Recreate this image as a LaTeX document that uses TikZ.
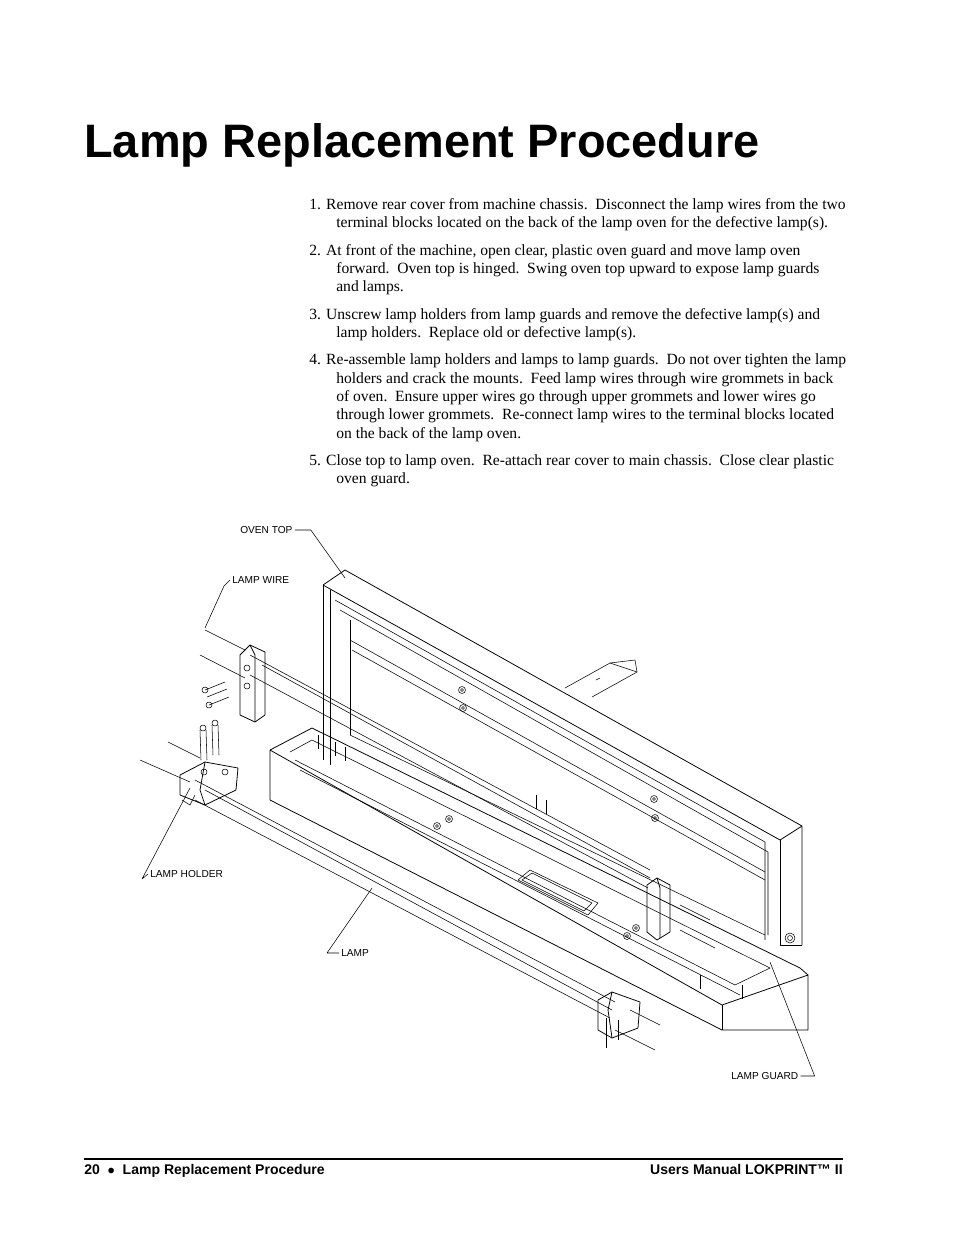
\documentclass[tikz,border=0pt]{standalone}
\usepackage{fontspec}
\setmainfont{Liberation Serif}
\newfontfamily\arial{Liberation Sans}
\begin{document}
\begin{tikzpicture}[x=0.6415pt,y=-0.6415pt,line join=round,
  ln/.style={draw,line width=0.5pt},
  thin/.style={draw,line width=0.35pt},
  lbl/.style={font=\arial\fontsize{6.5}{7}\selectfont,inner sep=0pt,anchor=west},
  bl/.style={font=\fontsize{10}{12}\selectfont,inner sep=0pt,anchor=base west}]
\useasboundingbox (0,0) rectangle (954,1235);
\node[font=\arial\bfseries\fontsize{30.1}{34}\selectfont,anchor=base west,inner sep=0pt] (title) at (84,157) {Lamp Replacement Procedure};
% body text
\node[bl] (t1a) at (309,209) {1. Remove rear cover from machine chassis.\ \ Disconnect the lamp wires from the two};
\node[bl] (t1b) at (336,227) {terminal blocks located on the back of the lamp oven for the defective lamp(s).};
\node[bl] (t2a) at (309,255) {2. At front of the machine, open clear, plastic oven guard and move lamp oven};
\node[bl] (t2b) at (336,273) {forward.\ \ Oven top is hinged.\ \ Swing oven top upward to expose lamp guards};
\node[bl] (t2c) at (336,291) {and lamps.};
\node[bl] (t3a) at (309,319) {3. Unscrew lamp holders from lamp guards and remove the defective lamp(s) and};
\node[bl] (t3b) at (336,337) {lamp holders.\ \ Replace old or defective lamp(s).};
\node[bl] (t4a) at (309,364) {4. Re-assemble lamp holders and lamps to lamp guards.\ \ Do not over tighten the lamp};
\node[bl] (t4b) at (336,383) {holders and crack the mounts.\ \ Feed lamp wires through wire grommets in back};
\node[bl] (t4c) at (336,401) {of oven.\ \ Ensure upper wires go through upper grommets and lower wires go};
\node[bl] (t4d) at (336,419) {through lower grommets.\ \ Re-connect lamp wires to the terminal blocks located};
\node[bl] (t4e) at (336,438) {on the back of the lamp oven.};
\node[bl] (t5a) at (309,465) {5. Close top to lamp oven.\ \ Re-attach rear cover to main chassis.\ \ Close clear plastic};
\node[bl] (t5b) at (336,483) {oven guard.};
% ---------- drawing ----------
\draw[ln] (323,585) -- (345,570) -- (802,826) -- (802,945);
\draw[ln] (323,585) -- (780,840) -- (802,826);
\draw[ln] (323,585) -- (323,760);
\draw[ln] (330,590) -- (330,765);
\draw[ln] (780,840) -- (780,945) -- (802,945);
\draw[thin] (340,610) -- (768,852) -- (768,935);
\draw[thin] (350,620) -- (350,735);
\draw[thin] (350,640) -- (765,872);
\draw[thin] (352,650) -- (765,880);
\draw[thin] (335,600) -- (765,842) -- (765,940);
\draw[thin] (350,735) -- (765,935);
\draw[thin] (565,688) -- (610,663) -- (637,672) -- (592,697);
\draw[thin] (610,663) -- (635,660) -- (637,672);
\draw[thin] (596,680) -- (600,678);
\foreach \p in {(462,690),(463,708),(654,799),(655,818),(437,826),(449,819),(627,936),(636,928)}
  \draw[thin] \p circle (3.5) \p circle (1.5);
\draw[ln] (270,750) -- (312,728) -- (800,968) -- (808,975);
\draw[ln] (270,750) -- (270,800) -- (722,1030) -- (808,1030) -- (808,975) -- (722,1005) -- (270,750);
\draw[ln] (722,1005) -- (722,1030);
\draw[thin] (290,752) -- (312,740) -- (770,968);
\draw[thin] (295,760) -- (735,985) -- (770,968);
\draw[thin] (300,770) -- (740,995);
\draw[thin] (518,880) -- (530,870) -- (598,903) -- (588,915) -- cycle;
\draw[thin] (522,880) -- (532,873) -- (592,903) -- (584,911) -- cycle;
\foreach \x/\y in {335/742,345/747,318/735,536/795,546/800,700/975,742/985}
  \draw[thin] (\x,\y) -- (\x,\y+14);
\draw[thin] (250,655) -- (650,870);
\draw[thin] (250,675) -- (648,888);
\draw[thin] (262,665) -- (650,878);
\draw[thin] (195,780) -- (615,1002);
\draw[thin] (195,800) -- (610,1018);
\draw[thin] (205,790) -- (612,1010);
\draw[thin] (200,655) -- (245,678);
\draw[thin] (205,630) -- (245,650);
\draw[thin] (140,760) -- (190,782);
\draw[thin] (168,742) -- (200,758);
\draw[thin] (615,1030) -- (655,1050);
\draw[thin] (630,1010) -- (660,1025);
\draw[thin] (680,905) -- (710,920);
\draw[thin] (680,930) -- (715,948);
\draw[ln] (240,655) -- (250,645) -- (265,652) -- (265,715) -- (255,722) -- (240,715) -- cycle;
\draw[ln] (250,645) -- (255,655) -- (255,722);
\draw[thin] (247,668) circle (3) (247,686) circle (3);
\draw[thin] (205,690) -- (225,682) (207,697) -- (227,689) (209,705)--(229,697);
\draw[thin] (205,690) circle (3) (209,705) circle (3);
\draw[ln] (180,775) -- (205,762) -- (238,768) -- (236,790) -- (205,805) -- (180,795) -- cycle;
\draw[ln] (205,762) -- (200,790) -- (205,805);
\draw[thin] (195,795) -- (190,805) -- (182,800);
\draw[thin] (204,772) circle (3) (225,772) circle (3);
\draw[thin] (200,730) -- (201,760) (206,730) -- (207,760) (212,725) -- (213,755) (218,725) -- (219,755);
\draw[thin] (203,728) circle (3) (215,723) circle (3);
\draw[ln] (647,885) -- (657,878) -- (670,885) -- (670,932) -- (657,940) -- (647,932) -- cycle;
\draw[ln] (657,878) -- (660,888) -- (660,938);
\draw[ln] (598,1000) -- (612,992) -- (640,1002) -- (638,1028) -- (612,1038) -- (598,1030) -- cycle;
\draw[ln] (612,992) -- (608,1010) -- (612,1038);
\draw[thin] (606,1018) -- (606,1048);
\draw[thin] (618,1020) -- (618,1040);
\draw[thin] (790,938) circle (5) (790,938) circle (2.5);
% labels + leaders
\node[lbl] (oventop) at (240,530) {OVEN TOP};
\draw[thin] (oventop.east) ++(2,0) coordinate (ot1) -- ++(16,0) coordinate (ot2) -- (345,578);
\node[lbl] (lampwire) at (232,580) {LAMP WIRE};
\draw[thin] (lampwire.west) ++(-2,0) coordinate (lw1) -- ++(-6,6) coordinate (lw2) -- (205,628);
\node[lbl] (lampholder) at (150,874) {LAMP HOLDER};
\draw[thin] (lampholder.west) ++(-2,0) coordinate (lh1) -- ++(-6,5) coordinate (lh2) -- (190,788);
\node[lbl] (lamp) at (341,953) {LAMP};
\draw[thin] (lamp.west) ++(-2,0) coordinate (l1) -- ++(-12,0) coordinate (l2) -- (372,888);
\node[lbl] (lampguard) at (731,1076) {LAMP GUARD};
\draw[thin] (lampguard.east) ++(2,0) coordinate (lg1) -- ++(14,0) coordinate (lg2) -- (770,962);
% footer
\draw[line width=1.2pt] (84,1159) -- (843,1159);
\node[font=\arial\bfseries\fontsize{9}{10}\selectfont,anchor=base west,inner sep=0pt] (footl) at (84,1174) {20\ \ $\bullet$\ \ Lamp Replacement Procedure};
\node[font=\arial\bfseries\fontsize{9}{10}\selectfont,anchor=base east,inner sep=0pt] (footr) at (843,1174) {Users Manual LOKPRINT™ II};
\end{tikzpicture}
\end{document}
